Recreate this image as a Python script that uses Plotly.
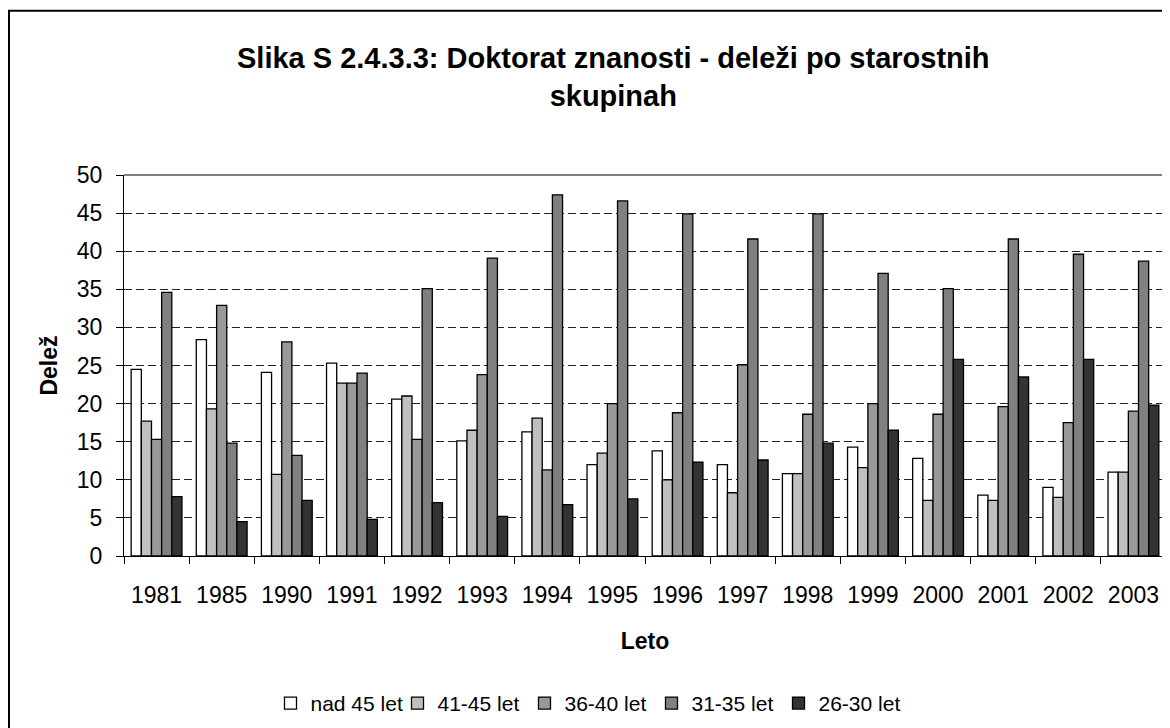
import plotly.graph_objects as go

years = ["1981", "1985", "1990", "1991", "1992", "1993", "1994", "1995",
         "1996", "1997", "1998", "1999", "2000", "2001", "2002", "2003"]
series_names = ["nad 45 let", "41-45 let", "36-40 let", "31-35 let", "26-30 let"]
nad45 = [24.5, 28.4, 24.1, 25.3, 20.6, 15.1, 16.3, 12.0, 13.8, 12.0, 10.8, 14.3, 12.8, 8.0, 9.0, 11.0]
s41_45 = [17.7, 19.3, 10.7, 22.7, 21.0, 16.5, 18.1, 13.5, 10.0, 8.3, 10.8, 11.6, 7.3, 7.3, 7.7, 11.0]
s36_40 = [15.3, 32.9, 28.1, 22.7, 15.3, 23.8, 11.3, 20.0, 18.8, 25.1, 18.6, 20.0, 18.6, 19.6, 17.5, 19.0]
s31_35 = [34.6, 14.8, 13.2, 24.0, 35.1, 39.1, 47.4, 46.6, 44.9, 41.6, 44.9, 37.1, 35.1, 41.6, 39.6, 38.7]
s26_30 = [7.8, 4.5, 7.3, 4.8, 7.0, 5.2, 6.75, 7.5, 12.3, 12.6, 14.8, 16.5, 25.8, 23.5, 25.8, 19.8]
colors = ["#ffffff", "#c0c0c0", "#999999", "#808080", "#333333"]
y_ticks = [0, 5, 10, 15, 20, 25, 30, 35, 40, 45, 50]

FONT = "Liberation Sans, Arial, sans-serif"

fig = go.Figure()
for name, vals, col in zip(series_names, [nad45, s41_45, s36_40, s31_35, s26_30], colors):
    fig.add_trace(go.Bar(x=years, y=vals, name=name,
                         marker=dict(color=col, line=dict(color="#000000", width=1.3))))

OFF = 8  # page body margin
W, H = 1162, 720
L, R, T, B = 116, 4, 167, 168
pw = W - L - R
ph = H - T - B


def px_x(p):
    return (p - OFF - L) / pw


def px_y(p):
    return (H - B - (p - OFF)) / ph


fig.update_layout(
    width=W, height=H,
    margin=dict(l=L, r=R, t=T, b=B),
    paper_bgcolor="#ffffff", plot_bgcolor="#ffffff",
    barmode="group", bargap=0.22, bargroupgap=0,
    font=dict(family=FONT, size=23, color="#000000"),
    showlegend=True,
    legend=dict(orientation="h", x=px_x(588), xanchor="center", y=px_y(709), yanchor="middle",
                font=dict(size=21, family=FONT), itemwidth=30, tracegroupgap=0,
                entrywidth=82, entrywidthmode="pixels",
                bgcolor="rgba(0,0,0,0)"),
    xaxis=dict(type="category", showline=True, linecolor="#000000", linewidth=1,
               ticks="outside", ticklen=7, tickson="boundaries", tickcolor="#000000",
               showgrid=False, tickfont=dict(size=23, family=FONT), ticklabelstandoff=18,
               title=dict(text="<b>Leto</b>", font=dict(size=23, family=FONT), standoff=26)),
    yaxis=dict(range=[0, 50], tickvals=y_ticks, showline=True, linecolor="#000000", linewidth=1,
               ticks="outside", ticklen=7, tickcolor="#000000", ticklabelstandoff=9,
               showgrid=True, gridcolor="#222222", griddash="8px,4px", gridwidth=1,
               zeroline=False, tickfont=dict(size=23, family=FONT),
               title=dict(text="<b>Delež</b>", font=dict(size=23, family=FONT), standoff=12)),
    annotations=[
        dict(text="<b>Slika S 2.4.3.3: Doktorat znanosti - deleži po starostnih<br>skupinah</b>",
             xref="paper", yref="paper", x=px_x(613), y=px_y(76), xanchor="center", yanchor="middle",
             showarrow=False, font=dict(size=29, family=FONT), align="center"),
    ],
    shapes=[
        dict(type="rect", xref="paper", yref="paper", x0=px_x(9), x1=px_x(1200),
             y0=px_y(780), y1=px_y(9), line=dict(color="#000000", width=2), layer="below"),
        dict(type="line", xref="paper", yref="paper", x0=0, x1=1, y0=1, y1=1,
             line=dict(color="#808080", width=2)),
        dict(type="line", xref="paper", yref="paper", x0=1, x1=1, y0=0, y1=1,
             line=dict(color="#808080", width=2)),
    ],
)

fig.write_html("out.html")
